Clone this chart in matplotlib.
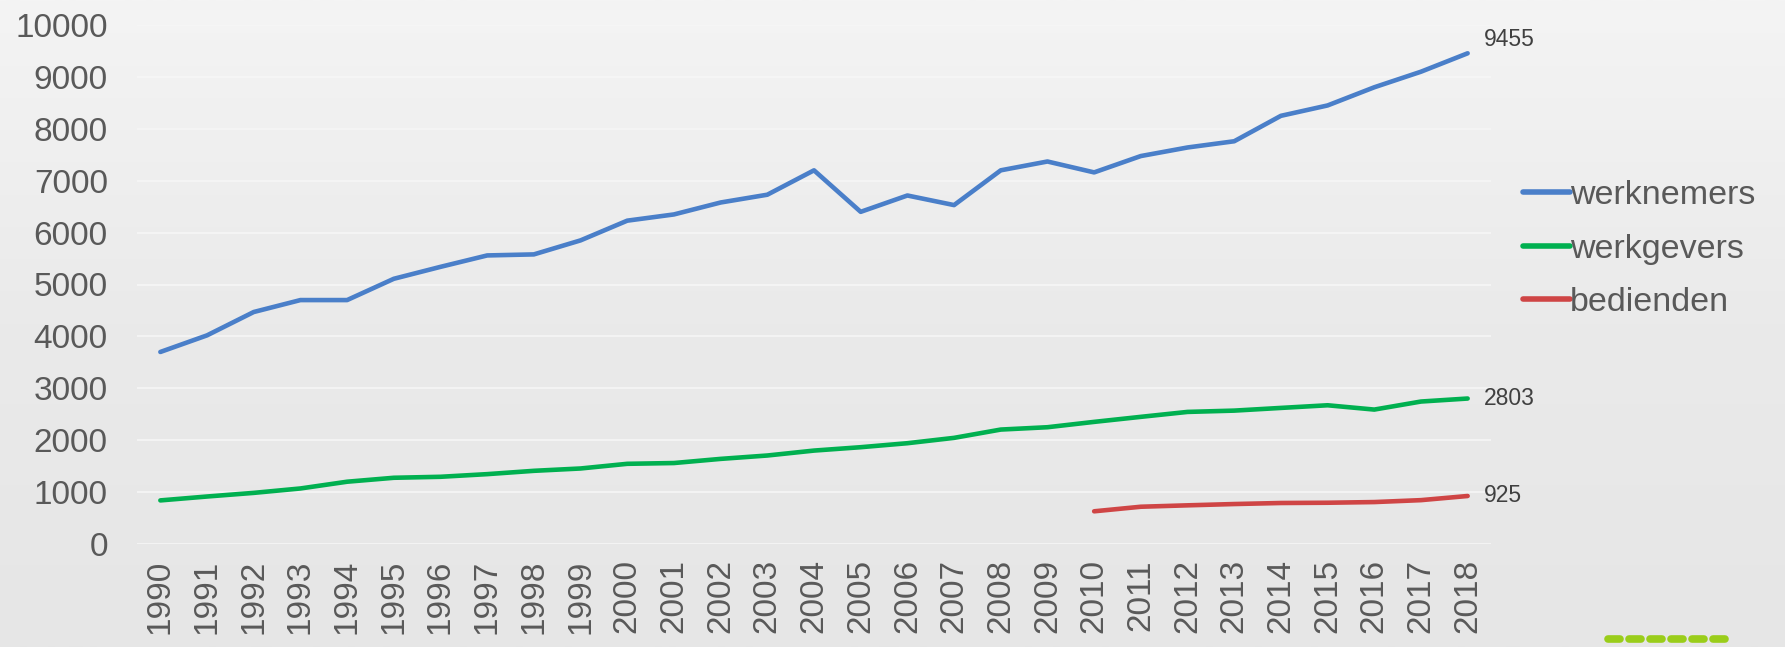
import numpy as np
import matplotlib
matplotlib.use("Agg")
import matplotlib.pyplot as plt
from matplotlib.lines import Line2D
from matplotlib.colors import LinearSegmentedColormap

years = list(range(1990, 2019))
werknemers = [3700, 4020, 4470, 4700, 4700, 5110, 5340, 5560, 5580, 5850,
              6230, 6350, 6580, 6730, 7200, 6400, 6715, 6530, 7200, 7370,
              7160, 7475, 7640, 7760, 8250, 8450, 8800, 9100, 9455]
werkgevers = [840, 915, 985, 1070, 1200, 1276, 1295, 1346, 1410, 1455,
              1545, 1560, 1640, 1705, 1800, 1865, 1942, 2045, 2205, 2250,
              2353, 2450, 2545, 2570, 2622, 2673, 2590, 2745, 2803]
bedienden_years = list(range(2010, 2019))
bedienden = [630, 718, 745, 770, 790, 795, 808, 845, 925]
series_names = ["werknemers", "werkgevers", "bedienden"]
colors = ["#4A7FC9", "#00B050", "#CF4545"]

plt.rcParams['font.family'] = ['Liberation Sans', 'DejaVu Sans']

fig = plt.figure(figsize=(17.85, 6.47), dpi=100)
fig.patch.set_facecolor("#EBEBEB")

# background gradient
bg = fig.add_axes([0, 0, 1, 1], zorder=-10)
grad = np.linspace(0, 1, 256).reshape(-1, 1)
cmap = LinearSegmentedColormap.from_list("bg", ["#F4F4F4", "#EAEAEA", "#E6E6E6"])
bg.imshow(grad, aspect="auto", cmap=cmap, extent=[0, 1, 0, 1])
bg.axis("off")

ax = fig.add_axes([137/1785, (647-544)/647, (1491-137)/1785, (544-25)/647])
ax.set_facecolor("none")

ax.plot(years, werknemers, color=colors[0], lw=3.3, label=series_names[0], solid_capstyle="round")
ax.plot(years, werkgevers, color=colors[1], lw=3.3, label=series_names[1], solid_capstyle="round")
ax.plot(bedienden_years, bedienden, color=colors[2], lw=3.3, label=series_names[2], solid_capstyle="round")

ax.set_xlim(1989.5, 2018.5)
ax.set_ylim(0, 10000)
ax.set_yticks(range(0, 10001, 1000))
ax.set_xticks(years)
ax.set_xticklabels([str(y) for y in years], rotation=90, va="top")
ax.tick_params(axis="y", length=0, pad=21, labelsize=24, labelcolor="#595959")
ax.tick_params(axis="x", length=0, pad=11, labelsize=24, labelcolor="#595959")
ax.grid(axis="y", color="#F6F6F6", lw=1.2)
ax.set_axisbelow(True)
for s in ax.spines.values():
    s.set_visible(False)

# end labels
ax.annotate(str(werknemers[-1]), (years[-1], werknemers[-1]), xytext=(12, 10),
            textcoords="offset points", fontsize=16.5, color="#404040", va="center", ha="left")
ax.annotate(str(werkgevers[-1]), (years[-1], werkgevers[-1]), xytext=(12, 0),
            textcoords="offset points", fontsize=16.5, color="#404040", va="center", ha="left")
ax.annotate(str(bedienden[-1]), (bedienden_years[-1], bedienden[-1]), xytext=(12, 0),
            textcoords="offset points", fontsize=16.5, color="#404040", va="center", ha="left")

leg = ax.legend(loc="center left", bbox_to_anchor=(1.0236, 0.568), frameon=False,
                fontsize=24.5, handlelength=1.38, handletextpad=0.0, labelspacing=0.66,
                borderaxespad=0, borderpad=0, labelcolor="#595959")
for h in leg.get_lines():
    h.set_linewidth(4)

# decorative template dashes
for i in range(6):
    fig.add_artist(Line2D([(1608 + i*21)/1785, (1620 + i*21)/1785], [8/647, 8/647],
                          color="#9ACD1A", lw=5.5, solid_capstyle="round"))

fig.savefig("out.png", dpi=100, facecolor=fig.get_facecolor())
